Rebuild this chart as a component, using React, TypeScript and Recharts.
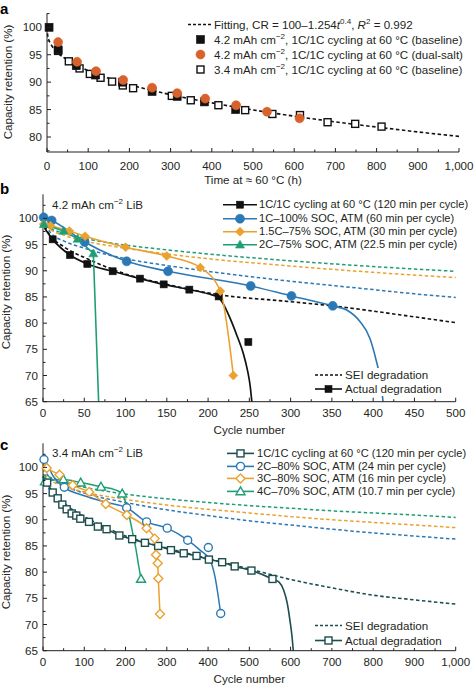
import React from "react";
import { ComposedChart, Line, Scatter, XAxis, YAxis, Legend, Label } from "recharts";

const FONT = '"Liberation Sans", Arial, Helvetica, sans-serif';
const INK = "#231f20";
const FS = 11.6;

type Pt = [number, number];
type Kind = "square" | "circle" | "diamond" | "triangle";

// ---------- panel a: capacity retention vs time at 60 °C ----------
const aTimeTicks = [0, 100, 200, 300, 400, 500, 600, 700, 800, 900, 1000];
const aTimeMinor = [50, 150, 250, 350, 450, 550, 650, 750, 850, 950];
const aCrTicks = [80, 85, 90, 95, 100];
const aCrMinor = [77.5, 82.5, 87.5, 92.5, 97.5, 102.5];
const aFit: Pt[] = [
  [0, 100], [2, 98.35], [5, 97.61], [10, 96.85], [25, 95.46], [50, 94.0], [100, 92.09], [150, 90.7],
  [200, 89.56], [300, 87.72], [400, 86.22], [500, 84.94], [600, 83.8], [700, 82.76], [800, 81.82],
  [900, 80.93], [1000, 80.12],
];
const aBase42: Pt[] = [
  [5, 100], [27, 95.9], [71, 93.0], [118, 91.3], [183, 90.0], [255, 88.3], [316, 87.4], [382, 86.4], [458, 85.0],
];
const aDual42: Pt[] = [
  [27, 97.3], [73, 93.7], [119, 92.0], [185, 90.4], [255, 89.0], [316, 88.0], [384, 87.0], [459, 85.8],
  [534, 84.6], [613, 83.4],
];
const aBase34: Pt[] = [
  [27, 95.7], [53, 93.8], [79, 92.5], [104, 91.5], [130, 90.8], [158, 90.1], [184, 89.4], [209, 88.9],
  [303, 87.5], [349, 86.7], [416, 85.8], [481, 84.9], [547, 84.2], [614, 84.0], [681, 82.7], [748, 82.4],
  [812, 81.9],
];

// ---------- panel b: 4.2 mAh cm-2 cell ----------
const bCycleTicks = [0, 50, 100, 150, 200, 250, 300, 350, 400, 450, 500];
const bCycleMinor = [25, 75, 125, 175, 225, 275, 325, 375, 425, 475];
const bCrTicks = [65, 70, 75, 80, 85, 90, 95, 100];
const bCrMinor = [67.5, 72.5, 77.5, 82.5, 87.5, 92.5, 97.5, 102.5];
const bSeiBlack: Pt[] = [
  [0, 99.6], [5, 97.6], [10, 96.5], [25, 94.6], [55, 92.2], [100, 89.4], [150, 87.4], [210, 85.5],
  [300, 84.1], [350, 83.3], [400, 82.3], [450, 81.2], [500, 80.1],
];
const bSeiBlue: Pt[] = [
  [0, 99.8], [10, 97.1], [25, 95.7], [50, 94.3], [100, 92.3], [150, 91.0], [200, 89.9], [250, 88.9],
  [300, 88.0], [350, 87.2], [400, 86.4], [450, 85.6], [500, 84.9],
];
const bSeiOrange: Pt[] = [
  [0, 99.6], [10, 97.8], [25, 96.8], [50, 95.7], [100, 94.3], [150, 93.2], [200, 92.3], [300, 90.9],
  [400, 89.7], [500, 88.7],
];
const bSeiGreen: Pt[] = [
  [0, 99.8], [10, 98.1], [25, 97.2], [50, 96.2], [100, 94.9], [150, 94.0], [200, 93.2], [300, 91.9],
  [400, 90.8], [500, 89.9],
];
const bBlackPts: Pt[] = [
  [11.7, 96.0], [32.7, 93.0], [53.7, 91.3], [84.4, 89.9], [117.5, 88.5], [146.2, 87.4], [177.3, 86.4],
  [212.8, 85.1], [248.8, 76.4],
];
const bBlackCurve: Pt[] = [
  [0, 98.6], [11.7, 96.0], [32.7, 93.0], [53.7, 91.3], [84.4, 89.9], [117.5, 88.5], [146.2, 87.4],
  [177.3, 86.4], [200, 85.6], [212.8, 84.9], [220, 83.2], [227, 80.8], [235, 77.6], [242.7, 74.2],
  [248, 70.8], [251, 68], [253, 65],
];
const bBluePts: Pt[] = [
  [0.8, 100.2], [10.5, 99.6], [50.5, 95.5], [101.4, 91.8], [151.5, 89.9], [251.6, 87.1], [301, 85.2], [351, 83.3],
];
const bBlueTail: Pt[] = [[368, 82.5], [384, 80.3], [396, 77.1], [403, 73.3], [409, 69], [412, 65]];
const bOrangePts: Pt[] = [
  [0.8, 98.9], [9, 98.6], [31.9, 97.6], [51, 96.6], [100, 94.5], [150, 92.8], [190.6, 90.6], [214.9, 86.1],
  [230.6, 70.0],
];
const bGreenPts: Pt[] = [[1, 98.9], [25, 97.6], [42, 96.1], [61, 93.3]];
const bGreenTail: Pt[] = [[67.4, 65]];

// ---------- panel c: 3.4 mAh cm-2 cell ----------
const cCycleTicks = [0, 100, 200, 300, 400, 500, 600, 700, 800, 900, 1000];
const cCycleMinor = [50, 150, 250, 350, 450, 550, 650, 750, 850, 950];
const cCrTicks = [65, 70, 75, 80, 85, 90, 95, 100];
const cCrMinor = [67.5, 72.5, 77.5, 82.5, 87.5, 92.5, 97.5, 102.5];
const cSeiTeal: Pt[] = [
  [0, 98.2], [10, 96.6], [25, 95.0], [50, 93.2], [100, 90.6], [150, 88.6], [200, 86.9], [300, 84.6],
  [400, 82.6], [500, 80.6], [600, 78.6], [700, 77.0], [800, 75.6], [900, 74.7], [1000, 73.9],
];
const cSeiBlue: Pt[] = [
  [0, 101], [10, 98.7], [25, 97.6], [50, 96.5], [100, 95.1], [200, 93.3], [300, 91.9], [400, 90.8],
  [500, 89.8], [600, 89.0], [700, 88.2], [800, 87.5], [900, 86.9], [1000, 86.3],
];
const cSeiOrange: Pt[] = [
  [0, 99.8], [10, 98.0], [25, 97.2], [50, 96.4], [100, 95.3], [200, 93.9], [300, 92.8], [400, 92.0],
  [500, 91.3], [600, 90.6], [700, 90.0], [800, 89.5], [900, 89.0], [1000, 88.5],
];
const cSeiGreen: Pt[] = [
  [0, 98.6], [25, 97.9], [50, 97.1], [100, 96.2], [200, 94.9], [300, 94.0], [400, 93.3], [500, 92.7],
  [600, 92.2], [700, 91.7], [800, 91.3], [900, 90.9], [1000, 90.45],
];
const cTealPts: Pt[] = [
  [10, 97.1], [23.5, 95.2], [35.6, 94.1], [46.8, 92.9], [57.4, 92.0], [69.5, 91.2], [80.7, 90.8], [90.4, 90.2],
  [111.5, 89.6], [133, 88.7], [154, 88.2], [185, 87.0], [216, 86.3], [247, 85.6], [279, 85.0], [310, 84.2],
  [341, 83.6], [372, 83.1], [402, 82.4], [434, 81.9], [464.5, 81.1], [505, 80.3], [556, 78.7],
];
const cTealTail: Pt[] = [[572, 78.1], [583, 76.6], [592, 74], [598, 71], [603, 68], [606.5, 65]];
const cBluePts: Pt[] = [
  [2.4, 101.5], [51.6, 96.2], [202.8, 92.3], [251, 89.6], [301, 88.4], [350.6, 86.1], [400.6, 84.7], [430.6, 72.1],
];
const cBlueCurve: Pt[] = [
  [0, 101.6], [2.4, 101.5], [25, 98.3], [51.6, 96.2], [100, 94.6], [150, 93.4], [202.8, 92.3], [251, 89.6],
  [301, 88.4], [350.6, 86.1], [380.4, 84.2], [404.6, 82.3], [416.8, 79.1], [424.8, 75.3], [430.6, 72.1],
];
const cOrangePts: Pt[] = [
  [9, 99.9], [40, 98.6], [72, 96.6], [112, 95.3], [152, 93.0], [203, 90.9], [251, 88.4], [270.6, 86.4],
  [273.8, 83.3], [277.9, 81.7], [279.4, 78.8], [283.5, 72.0],
];
const cGreenPts: Pt[] = [[4.8, 97.3], [49.3, 97.7], [91.3, 97.1], [140.5, 96.3], [192, 95.0], [237.5, 78.7]];
const cGreenCurve: Pt[] = [
  [0, 97.2], [4.8, 97.3], [49.3, 97.7], [91.3, 97.1], [140.5, 96.3], [175, 95.7], [192, 95.0], [203, 92.5],
  [210.8, 90.0], [218, 87.2], [225, 84.5], [231, 81.6], [237.5, 78.7],
];

const COL = {
  black: "#111111",
  rust: "#d8622c",
  blue: "#2a78b6",
  orange: "#eba12f",
  green: "#1f9e76",
  teal: "#1b4e4d",
};

const xy = (pts: Pt[]) => pts.map(([x, y]) => ({ x, y }));
const merge = (a: number[], b: number[]) => [...a, ...b].sort((p, q) => p - q);
const fmt = (v: number) => (v >= 1000 ? v.toLocaleString("en-US") : String(v));

function Mark({ cx, cy, kind, size, color, open }: { cx: number; cy: number; kind: Kind; size: number; color: string; open?: boolean }) {
  const fill = open ? "#fff" : color;
  const sw = open ? 1.4 : 0.6;
  const r = size / 2;
  if (kind === "square")
    return <rect x={cx - r} y={cy - r} width={size} height={size} fill={fill} stroke={color} strokeWidth={sw} />;
  if (kind === "circle") return <circle cx={cx} cy={cy} r={r} fill={fill} stroke={color} strokeWidth={sw} />;
  if (kind === "diamond")
    return (
      <polygon
        points={`${cx},${cy - r} ${cx + r},${cy} ${cx},${cy + r} ${cx - r},${cy}`}
        fill={fill}
        stroke={color}
        strokeWidth={sw}
      />
    );
  return (
    <polygon
      points={`${cx},${cy - r} ${cx + r},${cy + r * 0.75} ${cx - r},${cy + r * 0.75}`}
      fill={fill}
      stroke={color}
      strokeWidth={sw}
    />
  );
}

const shape = (kind: Kind, size: number, color: string, open = false) => (p: any) =>
  <Mark cx={p.cx} cy={p.cy} kind={kind} size={size} color={color} open={open} />;

// ticks drawn inward, minor ticks without labels
const xTick = (major: number[], dy: number) => (p: any) => {
  const v = p.payload.value;
  const big = major.includes(v);
  return (
    <g>
      <line x1={p.x} x2={p.x} y1={p.y} y2={p.y - (big ? 4 : 2.5)} stroke={INK} />
      {big && (
        <text x={p.x} y={p.y + dy} textAnchor="middle" fontSize={FS} fontFamily={FONT} fill={INK}>
          {fmt(v)}
        </text>
      )}
    </g>
  );
};

const yTick = (major: number[]) => (p: any) => {
  const v = p.payload.value;
  const big = major.includes(v);
  return (
    <g>
      <line x1={p.x} x2={p.x + (big ? 4 : 2.5)} y1={p.y} y2={p.y} stroke={INK} />
      {big && (
        <text x={p.x - 5} y={p.y + 4.1} textAnchor="end" fontSize={FS} fontFamily={FONT} fill={INK}>
          {v}
        </text>
      )}
    </g>
  );
};

type Row = { label: React.ReactNode; color: string; kind?: Kind; open?: boolean; size?: number; line?: "solid" | "dashed" };

function Rows({ rows, left, top, rowH, iconW, gap, bg, fs = FS }: { rows: Row[]; left: number; top: number; rowH: number; iconW: number; gap: number; bg?: string; fs?: number }) {
  return (
    <div
      style={{
        position: "absolute",
        left,
        top,
        background: bg,
        fontFamily: FONT,
        fontSize: fs,
        color: INK,
        whiteSpace: "nowrap",
        paddingRight: bg ? 2 : 0,
      }}
    >
      {rows.map((r, i) => (
        <div key={i} style={{ height: rowH, lineHeight: `${rowH}px`, display: "flex", alignItems: "center" }}>
          <svg width={iconW} height={rowH} style={{ flex: "none" }}>
            {r.line && (
              <line
                x1={0}
                x2={iconW}
                y1={rowH / 2}
                y2={rowH / 2}
                stroke={r.color}
                strokeWidth={1.6}
                strokeDasharray={r.line === "dashed" ? "3 2" : undefined}
              />
            )}
            {r.kind && <Mark cx={iconW / 2} cy={rowH / 2} kind={r.kind} size={r.size ?? 8} color={r.color} open={r.open} />}
          </svg>
          <span style={{ marginLeft: gap }}>{r.label}</span>
        </div>
      ))}
    </div>
  );
}

const sup = (s: string) => <sup style={{ fontSize: 8, lineHeight: 0 }}>{s}</sup>;
const mAh = (v: string) => (
  <>
    {v} mAh cm{sup("−2")}
  </>
);

const overlayLegend = (blocks: React.ReactNode, h: number) => (
  <Legend
    verticalAlign="middle"
    align="center"
    layout="horizontal"
    wrapperStyle={{ top: 0, left: 0, width: 474, height: h, pointerEvents: "none" }}
    content={() => <div style={{ position: "relative", width: 474, height: h }}>{blocks}</div>}
  />
);

const dash = { strokeDasharray: "3.5 2.5" };

function PanelA() {
  const rows: Row[] = [
    {
      color: COL.black,
      line: "dashed",
      label: (
        <>
          Fitting, CR = 100–1.254<i>t</i>
          {sup("0.4")}, <i>R</i>
          {sup("2")} = 0.992
        </>
      ),
    },
    { color: COL.black, kind: "square", size: 8, label: <>{mAh("4.2")}, 1C/1C cycling at 60 °C (baseline)</> },
    { color: COL.rust, kind: "circle", size: 9, label: <>{mAh("4.2")}, 1C/1C cycling at 60 °C (dual-salt)</> },
    { color: COL.black, kind: "square", size: 7, open: true, label: <>{mAh("3.4")}, 1C/1C cycling at 60 °C (baseline)</> },
  ];
  return (
    <ComposedChart width={474} height={190} margin={{ top: 13.3, right: 15, bottom: 0, left: 7 }}>
      <XAxis
        type="number"
        dataKey="x"
        domain={[0, 1000]}
        ticks={merge(aTimeTicks, aTimeMinor)}
        interval={0}
        tick={xTick(aTimeTicks, 18.2)}
        tickLine={false}
        tickSize={0}
        tickMargin={0}
        height={38}
        stroke={INK}
      >
        <Label value="Time at ≈ 60 °C (h)" position="insideBottom" offset={6} fontSize={FS} fontFamily={FONT} fill={INK} />
      </XAxis>
      <YAxis
        type="number"
        dataKey="y"
        domain={[77.27, 102.55]}
        ticks={merge(aCrTicks, aCrMinor)}
        interval={0}
        tick={yTick(aCrTicks)}
        tickLine={false}
        tickSize={0}
        tickMargin={0}
        width={40}
        stroke={INK}
      />
      <Line data={xy(aFit)} dataKey="y" type="monotone" stroke={COL.black} strokeWidth={1.6} {...dash} dot={false} activeDot={false} isAnimationActive={false} />
      <Scatter data={xy(aBase34)} dataKey="y" shape={shape("square", 7, COL.black, true)} isAnimationActive={false} />
      <Scatter data={xy(aBase42)} dataKey="y" shape={shape("square", 8, COL.black)} isAnimationActive={false} />
      <Scatter data={xy(aDual42)} dataKey="y" shape={shape("circle", 9, COL.rust)} isAnimationActive={false} />
      {overlayLegend(<Rows rows={rows} left={188} top={16.5} rowH={15} iconW={25} gap={1} />, 190)}
    </ComposedChart>
  );
}

function PanelB() {
  const top: Row[] = [
    { color: COL.black, line: "solid", kind: "square", size: 7, label: "1C/1C cycling at 60 °C (120 min per cycle)" },
    { color: COL.blue, line: "solid", kind: "circle", size: 9, label: "1C–100% SOC, ATM (60 min per cycle)" },
    { color: COL.orange, line: "solid", kind: "diamond", size: 9, label: "1.5C–75% SOC, ATM (30 min per cycle)" },
    { color: COL.green, line: "solid", kind: "triangle", size: 9, label: "2C–75% SOC, ATM (22.5 min per cycle)" },
  ];
  const bottom: Row[] = [
    { color: COL.black, line: "dashed", label: "SEI degradation" },
    { color: COL.black, line: "solid", kind: "square", size: 7, label: "Actual degradation" },
  ];
  return (
    <ComposedChart width={474} height={250} margin={{ top: 4.3, right: 18.3, bottom: 0, left: 3 }}>
      <XAxis
        type="number"
        dataKey="x"
        domain={[0, 500]}
        ticks={merge(bCycleTicks, bCycleMinor)}
        interval={0}
        tick={xTick(bCycleTicks, 15.7)}
        tickLine={false}
        tickSize={0}
        tickMargin={0}
        height={38.3}
        stroke={INK}
      >
        <Label value="Cycle number" position="insideBottom" offset={6} fontSize={FS} fontFamily={FONT} fill={INK} />
      </XAxis>
      <YAxis
        type="number"
        dataKey="y"
        domain={[65, 104.6]}
        ticks={merge(bCrTicks, bCrMinor)}
        interval={0}
        tick={yTick(bCrTicks)}
        tickLine={false}
        tickSize={0}
        tickMargin={0}
        width={40}
        stroke={INK}
      />
      <Line data={xy(bSeiBlack)} dataKey="y" type="monotone" stroke={COL.black} strokeWidth={1.6} {...dash} dot={false} activeDot={false} isAnimationActive={false} />
      <Line data={xy(bSeiBlue)} dataKey="y" type="monotone" stroke={COL.blue} strokeWidth={1.5} {...dash} dot={false} activeDot={false} isAnimationActive={false} />
      <Line data={xy(bSeiOrange)} dataKey="y" type="monotone" stroke={COL.orange} strokeWidth={1.5} {...dash} dot={false} activeDot={false} isAnimationActive={false} />
      <Line data={xy(bSeiGreen)} dataKey="y" type="monotone" stroke={COL.green} strokeWidth={1.5} {...dash} dot={false} activeDot={false} isAnimationActive={false} />
      <Line data={xy(bBlackCurve)} dataKey="y" type="monotone" stroke={COL.black} strokeWidth={1.7} dot={false} activeDot={false} isAnimationActive={false} />
      <Line data={xy([...bBluePts, ...bBlueTail])} dataKey="y" type="monotone" stroke={COL.blue} strokeWidth={1.6} dot={false} activeDot={false} isAnimationActive={false} />
      <Line data={xy(bOrangePts)} dataKey="y" type="monotone" stroke={COL.orange} strokeWidth={1.6} dot={false} activeDot={false} isAnimationActive={false} />
      <Line data={xy([...bGreenPts, ...bGreenTail])} dataKey="y" type="linear" stroke={COL.green} strokeWidth={1.6} dot={false} activeDot={false} isAnimationActive={false} />
      <Scatter data={xy(bBlackPts)} dataKey="y" shape={shape("square", 7, COL.black)} isAnimationActive={false} />
      <Scatter data={xy(bBluePts)} dataKey="y" shape={shape("circle", 9, COL.blue)} isAnimationActive={false} />
      <Scatter data={xy(bOrangePts)} dataKey="y" shape={shape("diamond", 9, COL.orange)} isAnimationActive={false} />
      <Scatter data={xy(bGreenPts)} dataKey="y" shape={shape("triangle", 9, COL.green)} isAnimationActive={false} />
      {overlayLegend(
        <>
          <Rows rows={top} left={223} top={8.3} rowH={13.4} iconW={34} gap={2} fs={11.1} />
          <Rows rows={bottom} left={315} top={178} rowH={14} iconW={27} gap={3} bg="#fff" />
        </>,
        250,
      )}
    </ComposedChart>
  );
}

function PanelC() {
  const top: Row[] = [
    { color: COL.teal, line: "solid", kind: "square", size: 7, open: true, label: "1C/1C cycling at 60 °C (120 min per cycle)" },
    { color: COL.blue, line: "solid", kind: "circle", size: 8, open: true, label: "2C–80% SOC, ATM (24 min per cycle)" },
    { color: COL.orange, line: "solid", kind: "diamond", size: 9, open: true, label: "3C–80% SOC, ATM (16 min per cycle)" },
    { color: COL.green, line: "solid", kind: "triangle", size: 9, open: true, label: "4C–70% SOC, ATM (10.7 min per cycle)" },
  ];
  const bottom: Row[] = [
    { color: COL.teal, line: "dashed", label: "SEI degradation" },
    { color: COL.teal, line: "solid", kind: "square", size: 7, open: true, label: "Actual degradation" },
  ];
  return (
    <ComposedChart width={474} height={252} margin={{ top: 8.3, right: 18.3, bottom: 0, left: 3 }}>
      <XAxis
        type="number"
        dataKey="x"
        domain={[0, 1000]}
        ticks={merge(cCycleTicks, cCycleMinor)}
        interval={0}
        tick={xTick(cCycleTicks, 15.7)}
        tickLine={false}
        tickSize={0}
        tickMargin={0}
        height={36.3}
        stroke={INK}
      >
        <Label value="Cycle number" position="insideBottom" offset={4} fontSize={FS} fontFamily={FONT} fill={INK} />
      </XAxis>
      <YAxis
        type="number"
        dataKey="y"
        domain={[65, 104.6]}
        ticks={merge(cCrTicks, cCrMinor)}
        interval={0}
        tick={yTick(cCrTicks)}
        tickLine={false}
        tickSize={0}
        tickMargin={0}
        width={40}
        stroke={INK}
      />
      <Line data={xy(cSeiTeal)} dataKey="y" type="monotone" stroke={COL.teal} strokeWidth={1.6} {...dash} dot={false} activeDot={false} isAnimationActive={false} />
      <Line data={xy(cSeiBlue)} dataKey="y" type="monotone" stroke={COL.blue} strokeWidth={1.5} {...dash} dot={false} activeDot={false} isAnimationActive={false} />
      <Line data={xy(cSeiOrange)} dataKey="y" type="monotone" stroke={COL.orange} strokeWidth={1.5} {...dash} dot={false} activeDot={false} isAnimationActive={false} />
      <Line data={xy(cSeiGreen)} dataKey="y" type="monotone" stroke={COL.green} strokeWidth={1.5} {...dash} dot={false} activeDot={false} isAnimationActive={false} />
      <Line data={xy([[0, 98.3], ...cTealPts, ...cTealTail])} dataKey="y" type="monotone" stroke={COL.teal} strokeWidth={1.6} dot={false} activeDot={false} isAnimationActive={false} />
      <Line data={xy(cGreenCurve)} dataKey="y" type="monotone" stroke={COL.green} strokeWidth={1.5} dot={false} activeDot={false} isAnimationActive={false} />
      <Line data={xy(cBlueCurve)} dataKey="y" type="monotone" stroke={COL.blue} strokeWidth={1.5} dot={false} activeDot={false} isAnimationActive={false} />
      <Line data={xy([[0, 100.6], ...cOrangePts])} dataKey="y" type="monotone" stroke={COL.orange} strokeWidth={1.5} dot={false} activeDot={false} isAnimationActive={false} />
      <Scatter data={xy(cGreenPts)} dataKey="y" shape={shape("triangle", 9, COL.green, true)} isAnimationActive={false} />
      <Scatter data={xy(cTealPts)} dataKey="y" shape={shape("square", 7, COL.teal, true)} isAnimationActive={false} />
      <Scatter data={xy(cBluePts)} dataKey="y" shape={shape("circle", 8, COL.blue, true)} isAnimationActive={false} />
      <Scatter data={xy(cOrangePts)} dataKey="y" shape={shape("diamond", 9, COL.orange, true)} isAnimationActive={false} />
      {overlayLegend(
        <>
          <Rows rows={top} left={227} top={11.9} rowH={12.8} iconW={27} gap={3} fs={11.1} />
          <Rows rows={bottom} left={315} top={182.5} rowH={15} iconW={27} gap={3} bg="#fff" />
        </>,
        252,
      )}
    </ComposedChart>
  );
}

function YTitle({ cx, cy }: { cx: number; cy: number }) {
  return (
    <div
      style={{
        position: "absolute",
        left: cx,
        top: cy,
        transform: "translate(-50%, -50%) rotate(-90deg)",
        whiteSpace: "nowrap",
        fontSize: FS,
        lineHeight: "14px",
        color: INK,
      }}
    >
      Capacity retention (%)
    </div>
  );
}

function Letter({ x, y, ch }: { x: number; y: number; ch: string }) {
  return (
    <div style={{ position: "absolute", left: x, top: y, fontSize: 15, fontWeight: 900, lineHeight: "15px", color: "#000" }}>
      {ch}
    </div>
  );
}

export default function App() {
  return (
    <div style={{ position: "absolute", left: 0, top: 0, width: 474, height: 687, background: "#fff", fontFamily: FONT, overflow: "hidden" }}>
      <div style={{ position: "absolute", left: 0, top: 0 }}>
        <PanelA />
      </div>
      <div style={{ position: "absolute", left: 0, top: 190 }}>
        <PanelB />
      </div>
      <div style={{ position: "absolute", left: 0, top: 435 }}>
        <PanelC />
      </div>
      <Letter x={0} y={1} ch="a" />
      <Letter x={0} y={181} ch="b" />
      <Letter x={0} y={437} ch="c" />
      <YTitle cx={8} cy={82} />
      <YTitle cx={6} cy={292} />
      <YTitle cx={6} cy={552} />
      <div style={{ position: "absolute", left: 52, top: 198, fontSize: FS, color: INK, lineHeight: "14px" }}>
        {mAh("4.2")} LiB
      </div>
      <div style={{ position: "absolute", left: 52, top: 446, fontSize: FS, color: INK, lineHeight: "14px" }}>
        {mAh("3.4")} LiB
      </div>
    </div>
  );
}
